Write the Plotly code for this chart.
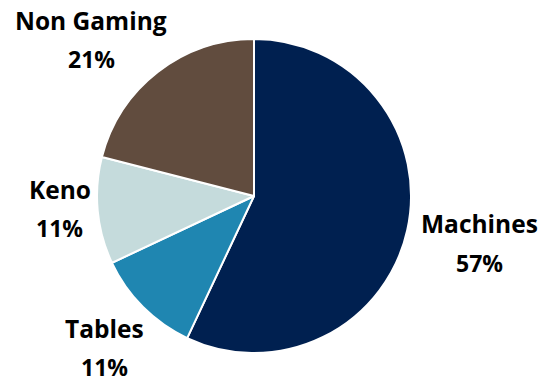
import math
import plotly.graph_objects as go

categories = ["Machines", "Tables", "Keno", "Non Gaming"]
values = [57, 11, 11, 21]
colors = ["#002050", "#1F86B1", "#C5DBDC", "#614C3E"]

W, H = 546, 383
CX, CY, R = 254, 196, 157  # pie centre / radius in px
LABEL_R = 215
shifts = {"Machines": (16, 0), "Tables": (3, -1), "Keno": (20, -8), "Non Gaming": (-31, 13)}
NAME_FONT = dict(family="Open Sans", size=24.5, color="#000000")
PCT_FONT = dict(family="Open Sans", size=23, color="#000000")

fig = go.Figure(go.Pie(
    labels=categories, values=values, sort=False, direction="clockwise", rotation=0,
    marker=dict(colors=colors, line=dict(color="white", width=2)),
    textinfo="none", hoverinfo="label+percent", showlegend=False,
    domain=dict(x=[(CX - R) / W, (CX + R) / W], y=[(H - CY - R) / H, (H - CY + R) / H]),
))

total = sum(values)
cum = 0
annotations = []
for cat, v in zip(categories, values):
    mid = (cum + v / 2) / total * 2 * math.pi
    cum += v
    dx, dy = shifts[cat]
    px = CX + LABEL_R * math.sin(mid) + dx
    py = CY - LABEL_R * math.cos(mid) + dy
    pct = f"{round(v / total * 100)}%"
    for txt, ys, fnt in ((cat, 19, NAME_FONT), (pct, -20, PCT_FONT)):
        annotations.append(dict(
            x=px / W, y=1 - py / H, xref="paper", yref="paper",
            text=f"<b>{txt}</b>", showarrow=False, xanchor="center", yanchor="middle",
            yshift=ys, font=fnt,
        ))

fig.update_layout(
    width=W, height=H, margin=dict(l=0, r=0, t=0, b=0),
    paper_bgcolor="white", plot_bgcolor="white", annotations=annotations,
)
fig.write_html("out.html")
